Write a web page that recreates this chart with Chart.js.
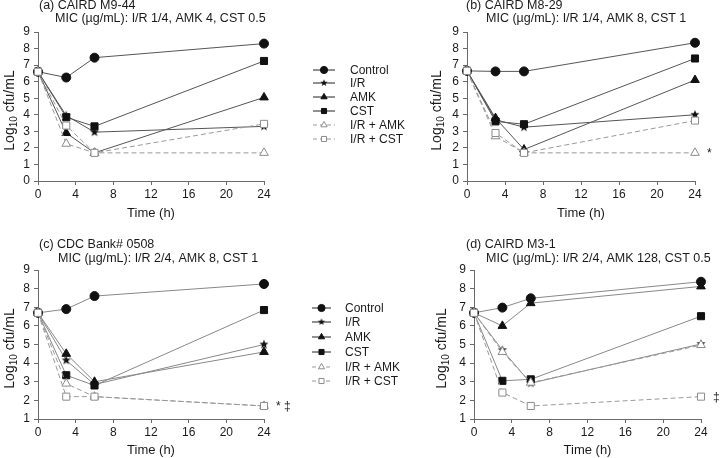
<!DOCTYPE html>
<html>
<head>
<meta charset="utf-8">
<script src="https://cdn.jsdelivr.net/npm/chart.js@4.4.1/dist/chart.umd.min.js"></script>
<style>
  body { margin: 0; background: #fff; }
  canvas { position: absolute; }
</style>
</head>
<body>
<canvas id="pa" width="420" height="230" style="left:0;top:0;width:420px;height:230px"></canvas>
<canvas id="pb" width="360" height="230" style="left:360px;top:0;width:360px;height:230px"></canvas>
<canvas id="pc" width="420" height="228" style="left:0;top:230px;width:420px;height:228px"></canvas>
<canvas id="pd" width="360" height="228" style="left:360px;top:230px;width:360px;height:228px"></canvas>
<script>
// sampling times and series names
var hours = [0, 3, 6, 24];
var seriesNames = ['Control', 'I/R', 'AMK', 'CST', 'I/R + AMK', 'I/R + CST'];

// (a) CAIRD M9-44
var aControl = [6.6, 6.25, 7.45, 8.3];
var aIR      = [6.6, 3.95, 2.95, 3.3];
var aAMK     = [6.6, 2.9, 1.7, 5.05];
var aCST     = [6.6, 3.85, 3.3, 7.25];
var aIRAMK   = [6.6, 2.25, 1.7, 1.7];
var aIRCST   = [6.6, 3.35, 1.7, 3.45];

// (b) CAIRD M8-29
var bControl = [6.65, 6.62, 6.62, 8.35];
var bIR      = [6.65, 3.7, 3.25, 4.0];
var bAMK     = [6.65, 3.8, 1.9, 6.1];
var bCST     = [6.65, 3.6, 3.43, 7.4];
var bIRAMK   = [6.65, 2.7, 1.7, 1.7];
var bIRCST   = [6.65, 2.9, 1.7, 3.65];

// (c) CDC Bank# 0508
var cControl = [6.7, 6.9, 7.6, 8.25];
var cIR      = [6.7, 4.15, 2.85, 5.0];
var cAMK     = [6.7, 4.5, 3.0, 4.6];
var cCST     = [6.7, 3.35, 2.8, 6.85];
var cIRAMK   = [6.7, 2.9, 2.2, 1.7];
var cIRCST   = [6.7, 2.2, 2.2, 1.7];

// (d) CAIRD M3-1
var dControl = [6.7, 6.98, 7.48, 8.37];
var dIR      = [6.7, 4.7, 2.92, 5.03];
var dAMK     = [6.7, 6.0, 7.22, 8.12];
var dCST     = [6.7, 3.05, 3.13, 6.52];
var dIRAMK   = [6.7, 4.6, 2.95, 4.97];
var dIRCST   = [6.7, 2.42, 1.7, 2.2];

var FONT = '"Liberation Sans", Arial, sans-serif';
var TXT = '#1a1a1a';
var AXIS = '#6a6a6a';

// filled five point star used as point style
function makeStar(r) {
  var c = document.createElement('canvas');
  c.width = c.height = Math.ceil(r * 2 + 2);
  var g = c.getContext('2d');
  var cx = c.width / 2, cy = c.height / 2;
  g.beginPath();
  for (var i = 0; i < 10; i++) {
    var rr = i % 2 ? r * 0.42 : r;
    var a = -Math.PI / 2 + i * Math.PI / 5;
    g.lineTo(cx + rr * Math.cos(a), cy + rr * Math.sin(a));
  }
  g.closePath();
  g.fillStyle = '#111';
  g.fill();
  return c;
}
var star = makeStar(4.8);
var starSmall = makeStar(3.8);

// marker style for each series (same order as seriesNames)
var styles = [
  { point: 'circle',   radius: 4.5, fill: '#111', edge: '#111', dash: [] },
  { point: star,       radius: 4.5, fill: '#111', edge: '#111', dash: [] },
  { point: 'triangle', radius: 5,   fill: '#111', edge: '#111', dash: [] },
  { point: 'rect',     radius: 5,   fill: '#111', edge: '#111', dash: [] },
  { point: 'triangle', radius: 5,   fill: '#fff', edge: '#8c8c8c', dash: [5, 3] },
  { point: 'rect',     radius: 5,   fill: '#fff', edge: '#8c8c8c', dash: [5, 3] }
];

function datasets(values, lineColor) {
  var out = values.map(function (v, i) {
    var s = styles[i];
    return {
      label: seriesNames[i],
      data: hours.map(function (h, k) { return { x: h, y: v[k] }; }),
      borderColor: s.dash.length ? '#999' : lineColor,
      borderWidth: 1,
      borderDash: s.dash,
      tension: 0,
      clip: false,
      pointStyle: s.point,
      pointRadius: s.radius,
      pointBackgroundColor: s.fill,
      pointBorderColor: s.edge,
      pointBorderWidth: 1
    };
  });
  // open markers drawn last (first dataset is top-most)
  return out.reverse();
}

// titles, y-axis title with subscript, legend and significance marks
var decor = {
  id: 'decor',
  afterDraw: function (chart, args, o) {
    var ctx = chart.ctx, area = chart.chartArea;
    ctx.save();
    ctx.fillStyle = TXT;
    ctx.textBaseline = 'middle';
    ctx.textAlign = 'left';
    ctx.font = '12.5px ' + FONT;
    ctx.fillText(o.title[0], o.t1[0], o.t1[1]);
    ctx.fillText(o.title[1], o.t2[0], o.t2[1]);

    // Log10 cfu/mL
    ctx.save();
    ctx.translate(o.ytx, (area.top + area.bottom) / 2 + 4);
    ctx.rotate(-Math.PI / 2);
    var big = '14px ' + FONT, small = '10px ' + FONT;
    ctx.font = big; var w1 = ctx.measureText('Log').width, w3 = ctx.measureText(' cfu/mL').width;
    ctx.font = small; var w2 = ctx.measureText('10').width;
    var x0 = -(w1 + w2 + w3) / 2;
    ctx.font = big; ctx.fillText('Log', x0, 0);
    ctx.font = small; ctx.fillText('10', x0 + w1, 4);
    ctx.font = big; ctx.fillText(' cfu/mL', x0 + w1 + w2, 0);
    ctx.restore();

    // significance marks next to the last points
    ctx.font = '12px ' + FONT;
    (o.marks || []).forEach(function (m) {
      ctx.fillText(m.text, area.right + m.dx, chart.scales.y.getPixelForValue(m.value) + 1);
    });

    if (o.legend) {
      var L = o.legend;
      seriesNames.forEach(function (name, i) {
        var s = styles[i], y = L.rows[i];
        ctx.save();
        ctx.strokeStyle = s.dash.length ? '#999' : '#222';
        ctx.lineWidth = 1;
        ctx.setLineDash(s.dash.length ? [4, 3] : []);
        ctx.beginPath();
        ctx.moveTo(L.x1, y); ctx.lineTo(L.x2, y);
        ctx.stroke();
        ctx.restore();
        ctx.save();
        ctx.fillStyle = s.fill;
        ctx.strokeStyle = s.edge;
        ctx.lineWidth = 1;
        var ps = s.point === star ? starSmall : s.point;
        Chart.helpers.drawPoint(ctx, { pointStyle: ps, radius: 3.6, rotation: 0, borderWidth: 1 }, (L.x1 + L.x2) / 2, y);
        ctx.restore();
        ctx.fillStyle = TXT;
        ctx.font = '12px ' + FONT;
        ctx.fillText(name, L.tx, y + 1);
      });
    }
    ctx.restore();
  }
};

function panel(id, values, lineColor, yMin, box, deco) {
  new Chart(document.getElementById(id), {
    type: 'line',
    data: { datasets: datasets(values, lineColor) },
    plugins: [decor],
    options: {
      responsive: false,
      animation: false,
      events: [],
      layout: { padding: { top: box.top, right: box.right, left: 0, bottom: box.bottom } },
      plugins: { legend: { display: false }, tooltip: { enabled: false }, decor: deco },
      scales: {
        x: {
          type: 'linear', min: 0, max: 24,
          ticks: { stepSize: 4, autoSkip: false, color: TXT, font: { family: FONT, size: 12 }, padding: 2 },
          grid: { drawOnChartArea: false, tickLength: 4, color: AXIS },
          border: { color: AXIS },
          title: { display: true, text: 'Time (h)', color: TXT, font: { family: FONT, size: 13 }, padding: { top: 2, bottom: 0 } },
          afterFit: function (s) { s.height = box.xh; }
        },
        y: {
          type: 'linear', min: yMin, max: 9,
          ticks: { stepSize: 1, autoSkip: false, color: TXT, font: { family: FONT, size: 12 }, padding: 4 },
          grid: { drawOnChartArea: false, tickLength: 4, color: AXIS },
          border: { color: AXIS },
          afterFit: function (s) { s.width = box.left; }
        }
      }
    }
  });
}

panel('pa', [aControl, aIR, aAMK, aCST, aIRAMK, aIRCST], '#555', 0,
  { top: 32, right: 156, bottom: 9, left: 38, xh: 40 },
  { title: ['(a) CAIRD M9-44', 'MIC (\u00b5g/mL): I/R 1/4, AMK 4, CST 0.5'], t1: [39, 6], t2: [55, 19], ytx: 10,
    legend: { x1: 313, x2: 335, tx: 350, rows: [70, 83, 97, 111, 125, 139] } });

panel('pb', [bControl, bIR, bAMK, bCST, bIRAMK, bIRCST], '#555', 0,
  { top: 32, right: 25, bottom: 9, left: 107, xh: 40 },
  { title: ['(b) CAIRD M8-29', 'MIC (\u00b5g/mL): I/R 1/4, AMK 8, CST 1'], t1: [106, 6], t2: [126, 19], ytx: 77,
    marks: [{ text: '*', dx: 12, value: 1.7 }] });

panel('pc', [cControl, cIR, cAMK, cCST, cIRAMK, cIRCST], '#888', 1,
  { top: 40, right: 156, bottom: 0, left: 38, xh: 39 },
  { title: ['(c) CDC Bank# 0508', 'MIC (\u00b5g/mL): I/R 2/4, AMK 8, CST 1'], t1: [39, 15], t2: [58, 29], ytx: 10,
    marks: [{ text: '*', dx: 12, value: 1.7 }, { text: '\u2021', dx: 20, value: 1.7 }],
    legend: { x1: 312, x2: 331, tx: 345, rows: [78, 92, 107, 122, 137, 151] } });

panel('pd', [dControl, dIR, dAMK, dCST, dIRAMK, dIRCST], '#888', 1,
  { top: 40, right: 19, bottom: 0, left: 114, xh: 39 },
  { title: ['(d) CAIRD M3-1', 'MIC (\u00b5g/mL): I/R 2/4, AMK 128, CST 0.5'], t1: [106, 15], t2: [126, 29], ytx: 82,
    marks: [{ text: '\u2021', dx: 12, value: 2.2 }] });
</script>
</body>
</html>
